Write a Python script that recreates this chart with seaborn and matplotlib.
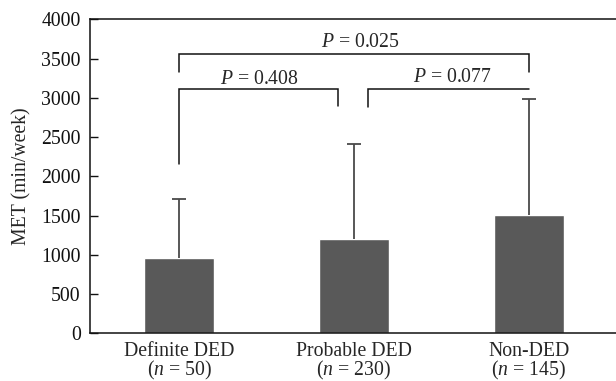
import numpy as np
import pandas as pd
import seaborn as sns
import matplotlib.pyplot as plt

# Dados
groups = ["Definite DED\n($n$ = 50)", "Probable DED\n($n$ = 230)", "Non-DED\n($n$ = 145)"]
met_mean = [960, 1200, 1510]
met_sd = [750, 1215, 1475]

# Colchetes de comparação: (x esq, x dir, topo, perna esq, perna dir)
brackets = [
    (0, 2, 3560, 3325, 3325),
    (0, 0.91, 3116, 2153, 2895),
    (1.08, 2, 3116, 2887, None),
]
p_labels = ["$P$ = 0.025", "$P$ = 0.408", "$P$ = 0.077"]
p_x = [1.04, 0.457, 1.566]
p_y = [3650, 3176, 3205]

sns.set_style("white")
plt.rcParams["font.family"] = ["Liberation Serif", "DejaVu Serif"]
plt.rcParams["mathtext.fontset"] = "custom"
plt.rcParams["mathtext.rm"] = "Liberation Serif"
plt.rcParams["mathtext.it"] = "Liberation Serif:italic"

fs = 14.2
df = pd.DataFrame({"group": groups, "met": met_mean})

fig = plt.figure(figsize=(6.16, 3.81), dpi=100)
ax = fig.add_axes([90 / 616, 1 - 333.3 / 381, 1 - 90 / 616, (333.3 - 19.3) / 381])

sns.barplot(data=df, x="group", y="met", color="#595959", saturation=1,
            width=0.4, errorbar=None, ax=ax)
eb = ax.errorbar(np.arange(len(groups)), met_mean, yerr=[[0] * 3, met_sd],
                 fmt="none", ecolor="#4a4a4a", elinewidth=1.3, capsize=5, capthick=1.3)
# só a barra de cima
eb[1][0].set_visible(False)

# Colchetes e valores de P
for x0, x1, top, l0, l1 in brackets:
    xs = [x0, x0, x1] if l1 is None else [x0, x0, x1, x1]
    ys = [l0, top, top] if l1 is None else [l0, top, top, l1]
    ax.plot(xs, ys, color="#111111", lw=1.1, solid_joinstyle="miter")
for lab, x, y in zip(p_labels, p_x, p_y):
    ax.text(x, y, lab, ha="center", va="baseline", fontsize=fs)

ax.set_ylim(0, 4000)
ax.set_xlim(-0.51, 2.5)
ax.set_yticks(np.arange(0, 4001, 500))
ax.tick_params(axis="y", direction="in", length=6, width=1, left=True,
               labelsize=fs, pad=6.7, colors="#111111")
ax.tick_params(axis="x", length=0, labelsize=fs, pad=6)
for t in ax.get_xticklabels():
    t.set_linespacing(0.9)
ax.set_xlabel("")
ax.set_ylabel("MET (min/week)", fontsize=fs, labelpad=7)

for s in ["left", "top", "bottom"]:
    ax.spines[s].set_color("#111111")
    ax.spines[s].set_linewidth(1.1)
ax.spines["right"].set_visible(False)

fig.savefig("out.png", dpi=100)
